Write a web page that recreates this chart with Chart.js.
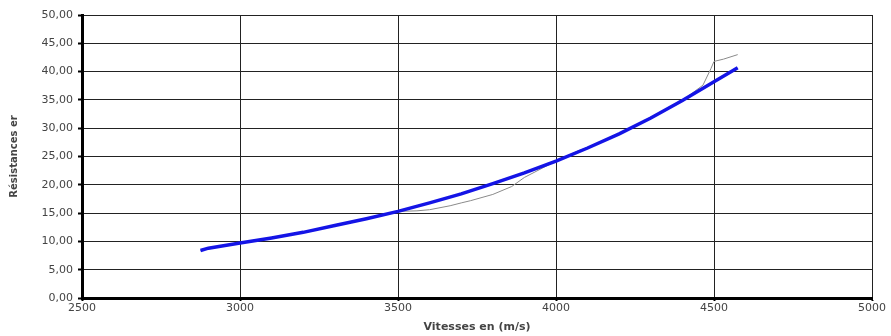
<!DOCTYPE html>
<html><head><meta charset="utf-8">
<script src="https://cdn.jsdelivr.net/npm/chart.js@4/dist/chart.umd.min.js"></script>
<style>html,body{margin:0;padding:0;background:#fff}#w{width:891px;height:336px}</style>
</head><body><div id="w"><canvas id="c"></canvas></div>
<script>
const measX = [2875,2900,3000,3100,3200,3300,3400,3500,3560,3600,3665,3700,3730,3800,3860,3900,4000,4070,4100,4200,4300,4400,4465,4490,4500,4530,4575];
const measY = [8.4,8.8,9.7,10.6,11.6,12.8,14.0,15.3,15.4,15.6,16.3,16.8,17.2,18.3,19.7,21.3,24.2,26.0,26.6,29.1,31.9,34.9,37.6,40.5,41.8,42.2,43.0];
const trendX = [2875,2900,3000,3100,3200,3300,3400,3500,3600,3700,3800,3900,4000,4100,4200,4300,4400,4500,4575];
const trendY = [8.4,8.8,9.7,10.6,11.6,12.8,14.0,15.3,16.8,18.4,20.2,22.1,24.2,26.5,29.0,31.8,34.9,38.2,40.7];
const xTitle = "Vitesses en (m/s)";
const yTitle = "Résistances er";
const pts = (xs, ys) => xs.map((x, i) => ({x, y: ys[i]}));
const tickFont = {family: "DejaVu Sans", size: 11};
new Chart(document.getElementById('c'), {
  type: 'scatter',
  data: { datasets: [
    {data: pts(measX, measY), showLine: true, borderColor: '#8a8a8a', borderWidth: 1, pointRadius: 0, tension: 0, order: 2},
    {data: pts(trendX, trendY), showLine: true, borderColor: '#1414e6', borderWidth: 3.5, pointRadius: 0, tension: 0, order: 1}
  ]},
  options: {
    responsive: true, maintainAspectRatio: false, animation: false,
    layout: {padding: {top: 15, right: 19, left: 0, bottom: 0}},
    plugins: {legend: {display: false}, tooltip: {enabled: false}},
    scales: {
      x: {
        type: 'linear', min: 2500, max: 5000,
        ticks: {stepSize: 500, color: '#444', font: tickFont, padding: 1, callback: v => String(v)},
        grid: {color: '#222', lineWidth: 1, tickLength: 3, tickColor: '#000', tickWidth: 2},
        border: {color: '#000', width: 3},
        title: {display: true, text: xTitle, color: '#444', font: {family: "DejaVu Sans", size: 11, weight: 'bold'}, padding: {top: 0, bottom: 2}},
        afterFit: s => { s.height = 38; }
      },
      y: {
        min: 0, max: 50,
        ticks: {stepSize: 5, color: '#444', font: tickFont, padding: 5,
          callback: v => v.toFixed(2).replace('.', ',')},
        grid: {color: '#222', lineWidth: 1, tickLength: 4, tickColor: '#000', tickWidth: 2},
        border: {color: '#000', width: 3},
        title: {display: true, text: yTitle, color: '#444', font: {family: "DejaVu Sans", size: 10, weight: 'bold'}, padding: {top: 8, bottom: 0}},
        afterFit: s => { s.width = 82; }
      }
    }
  }
});
</script></body></html>
